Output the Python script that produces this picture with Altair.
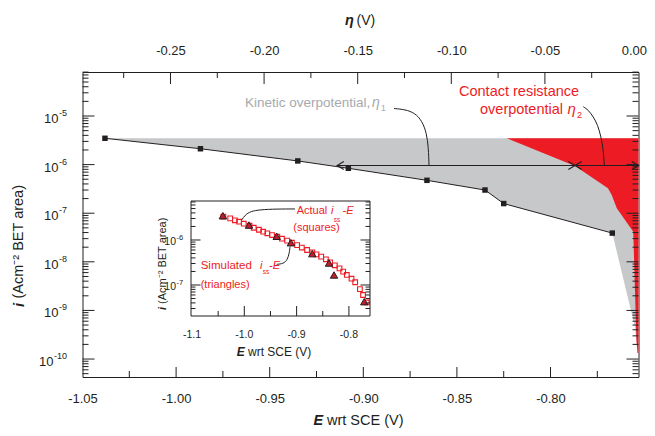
import altair as alt
import pandas as pd

FONT = "Liberation Sans"
INK = "#231f20"
RED = "#ed1c24"
GRAY_FILL = "#c7c8ca"
GRAY_TEXT = "#a7a9ac"
TRI_RED = "#be1e2d"

# ---------------- main panel data ----------------
E_main = [-1.038, -0.987, -0.935, -0.908, -0.866, -0.835, -0.825, -0.767]
i_main = [3.48e-6, 2.12e-6, 1.19e-6, 8.4e-7, 4.75e-7, 3.0e-7, 1.58e-7, 3.9e-8]

# grey (kinetic) region: lower boundary continues past last point
gray_tail_E = [-0.7549, -0.7535, -0.7530]
gray_tail_i = [4.55e-10, 1.33e-10, 1.33e-10]
band_top_i = 3.48e-6

# red (contact resistance) region lower boundary
red_E = [-0.8234, -0.7869, -0.7693, -0.7673, -0.7646, -0.7558, -0.7541, -0.7535, -0.7530]
red_i = [3.48e-6, 9.35e-7, 3.25e-7, 2.37e-7, 1.26e-7, 4.16e-8, 2.46e-10, 1.33e-10, 1.33e-10]

# double arrows
arrow_i = 9.58e-7
arrow_E_start = -0.914
arrow_E_mid = -0.7869
arrow_E_end = -0.7530

# annotation connector paths
kin_curve_E = [-0.8836, -0.8777, -0.8724, -0.8686, -0.8662, -0.8652, -0.8649]
kin_curve_i = [1.426e-5, 1.360e-5, 1.152e-5, 7.89e-6, 4.47e-6, 2.196e-6, 9.58e-7]
con_curve_E = [-0.78248, -0.77981, -0.77714, -0.77479, -0.77302, -0.77179, -0.77126]
con_curve_i = [1.554e-5, 1.329e-5, 9.67e-6, 6.53e-6, 3.75e-6, 2.00e-6, 9.58e-7]

# ---------------- inset data ----------------
inset_sq_E = [-1.040, -1.027, -1.018, -1.010, -1.001, -0.990, -0.982, -0.972, -0.964, -0.956,
              -0.947, -0.937, -0.928, -0.918, -0.909, -0.899, -0.890, -0.880, -0.870, -0.862,
              -0.853, -0.844, -0.836, -0.827, -0.818, -0.811, -0.804, -0.795, -0.788, -0.779,
              -0.773, -0.766]
inset_sq_i = [3.30e-6, 3.03e-6, 2.74e-6, 2.55e-6, 2.30e-6, 2.08e-6, 1.87e-6, 1.69e-6, 1.53e-6, 1.41e-6,
              1.29e-6, 1.18e-6, 1.07e-6, 9.7e-7, 8.7e-7, 7.7e-7, 6.8e-7, 6.0e-7, 5.3e-7, 4.8e-7,
              4.27e-7, 3.72e-7, 3.19e-7, 2.74e-7, 2.34e-7, 1.98e-7, 1.67e-7, 1.38e-7, 1.15e-7, 8.1e-8,
              6.0e-8, 4.1e-8]
inset_tri_E = [-1.041, -0.991, -0.938, -0.911, -0.870, -0.838, -0.8285, -0.7706]
inset_tri_i = [3.47e-6, 2.15e-6, 1.21e-6, 8.7e-7, 4.97e-7, 3.08e-7, 1.67e-7, 4.26e-8]
act_curve_E = [-1.0050, -0.9987, -0.9878, -0.9700, -0.9381, -0.9031]
act_curve_i = [2.78e-6, 3.59e-6, 4.34e-6, 4.71e-6, 4.89e-6, 4.89e-6]
sim_curve_E = [-0.9381, -0.9254, -0.9178, -0.9140, -0.9126]
sim_curve_i = [2.88e-7, 2.97e-7, 3.59e-7, 5.06e-7, 7.10e-7]

# ---------------- axes ----------------
x_ticks = [-1.05, -1.00, -0.95, -0.90, -0.85, -0.80]
x_minor = [-1.025, -0.975, -0.925, -0.875, -0.825, -0.775]
eta_ticks = [-0.25, -0.20, -0.15, -0.10, -0.05, 0.00]
eta_minor = [-0.275, -0.225, -0.175, -0.125, -0.075, -0.025]
y_ticks = [1e-5, 1e-6, 1e-7, 1e-8, 1e-9, 1e-10]
y_exps = ["-5", "-6", "-7", "-8", "-9", "-10"]
y_lo, y_hi = 4.27e-11, 8.04e-5
y_minor = [k * 10.0 ** d for d in range(-11, -4) for k in range(2, 10) if y_lo < k * 10.0 ** d < y_hi]

ix_ticks = [-1.1, -1.0, -0.9, -0.8]
ix_labels = ["-1.1", "-1.0", "-0.9", "-0.8"]
ix_major = [-1.0, -0.9, -0.8]
ix_minor = [-1.05, -0.95, -0.85]
iy_ticks = [1e-6, 1e-7]
iy_exps = ["-6", "-7"]
iy_lo, iy_hi = 2.047e-8, 7.356e-6
iy_minor = [k * 10.0 ** d for d in range(-9, -4) for k in range(2, 10) if iy_lo < k * 10.0 ** d < iy_hi]

# texts
t_kin = "Kinetic overpotential,"
t_con1 = "Contact resistance"
t_con2 = "overpotential"
t_eta = "η"
t_xtitle = "wrt SCE (V)"
t_ytitle = "(Acm⁻² BET area)"

W, H = 556, 305

xs = alt.Scale(domain=[-1.05, -0.753], nice=False, zero=False)
ys = alt.Scale(type="log", domain=[y_lo, y_hi], nice=False)
eta_s = alt.Scale(domain=[-0.297, 0.0], nice=False, zero=False)
ixs = alt.Scale(domain=[-1.1019, -0.7597], range=[108.5, 287.5], nice=False, zero=False)
iys = alt.Scale(type="log", domain=[iy_lo, iy_hi], range=[244, 129], nice=False)

x_axis = alt.Axis(values=x_ticks, labelExpr="replace(format(datum.value,'.2f'),'\u2212','-')",
                  ticks=False, domain=False, grid=False, labelFontSize=13, labelFont=FONT,
                  labelColor=INK, labelPadding=15, labelFlush=False, orient="bottom")
top_axis = alt.Axis(values=eta_ticks, labelExpr="replace(format(datum.value,'.2f'),'\u2212','-')",
                    ticks=False, domain=False, grid=False, labelFontSize=13, labelFont=FONT,
                    labelColor=INK, labelPadding=15, labelFlush=True, labelFlushOffset=8,
                    orient="top")

X = alt.X("E:Q", scale=xs, axis=x_axis, title=None)
Y = alt.Y("i:Q", scale=ys, axis=None)
IX = alt.X("Ei:Q", scale=ixs, axis=None)
IY = alt.Y("ii:Q", scale=iys, axis=None)

one = pd.DataFrame({"a": [0]})


def txt(s, x, y, size, color=INK, style="normal", weight="normal", angle=0, align="left",
        baseline="alphabetic"):
    return alt.Chart(one).mark_text(text=s, font=FONT, fontSize=size, color=color, fontStyle=style,
                                    fontWeight=weight, angle=angle, align=align,
                                    baseline=baseline).encode(x=alt.value(x), y=alt.value(y))


def pow_labels(vals, exps, ycode, field, x_short, x_long, base_size, exp_size, dy_base, dy_exp):
    df = pd.DataFrame({field: vals, "exp": exps, "base": ["10"] * len(vals)})
    layers = []
    for cond, xe in (("length(datum.exp) < 3", x_short), ("length(datum.exp) >= 3", x_long)):
        base = alt.Chart(df).transform_filter(cond).mark_text(
            font=FONT, fontSize=base_size, color=INK, align="right", baseline="middle", dy=dy_base).encode(
            y=ycode, x=alt.value(xe), text="base:N")
        ex = alt.Chart(df).transform_filter(cond).mark_text(
            font=FONT, fontSize=exp_size, color=INK, align="left", baseline="middle", dy=dy_exp, dx=0.5).encode(
            y=ycode, x=alt.value(xe), text="exp:N")
        layers += [base, ex]
    return layers


# ---------------- main layers ----------------
gray_df = pd.DataFrame({"E": E_main + gray_tail_E, "i": [band_top_i] * (len(E_main) + len(gray_tail_E)),
                        "b": i_main + gray_tail_i})
gray = alt.Chart(gray_df).mark_area(color=GRAY_FILL, opacity=1).encode(x=X, y=Y, y2="b:Q")
red_df = pd.DataFrame({"E": red_E, "i": [band_top_i] * len(red_E), "b": red_i})
red = alt.Chart(red_df).mark_area(color=RED, opacity=1).encode(x=X, y=Y, y2="b:Q")

main_df = pd.DataFrame({"E": E_main, "i": i_main})
line = alt.Chart(main_df).mark_line(color=INK, strokeWidth=1).encode(x=X, y=Y)
squares = alt.Chart(main_df).mark_square(color=INK, size=30, opacity=1).encode(x=X, y=Y)

tb_major = alt.Chart(pd.DataFrame({"E": x_ticks[1:]})).mark_rule(color=INK).encode(
    x=X, y=alt.value(H), y2=alt.value(H - 10))
tb_minor = alt.Chart(pd.DataFrame({"E": x_minor})).mark_rule(color=INK).encode(
    x=X, y=alt.value(H), y2=alt.value(H - 6))
tl_major = alt.Chart(pd.DataFrame({"i": y_ticks})).mark_rule(color=INK).encode(
    y=Y, x=alt.value(0), x2=alt.value(12))
tl_minor = alt.Chart(pd.DataFrame({"i": y_minor})).mark_rule(color=INK).encode(
    y=Y, x=alt.value(0), x2=alt.value(6))
tr_major = alt.Chart(pd.DataFrame({"i": y_ticks})).mark_rule(color=INK).encode(
    y=Y, x=alt.value(W - 12), x2=alt.value(W))
tr_minor = alt.Chart(pd.DataFrame({"i": y_minor})).mark_rule(color=INK).encode(
    y=Y, x=alt.value(W - 6), x2=alt.value(W))
ylabs = pow_labels(y_ticks, y_exps, Y, "i", -24, -29, 13, 9, 3, -3)

arrow_line = alt.Chart(pd.DataFrame({"E": [arrow_E_start], "E2": [arrow_E_end], "i": [arrow_i]})).mark_rule(
    color=INK, strokeWidth=1.1).encode(x=X, x2="E2:Q", y=Y)
RIGHT_HEAD = "M-1,-0.6L0,0L-1,0.6"
LEFT_HEAD = "M1,-0.6L0,0L1,0.6"
heads_r = alt.Chart(pd.DataFrame({"E": [arrow_E_mid, arrow_E_end], "i": [arrow_i, arrow_i]})).mark_point(
    shape=RIGHT_HEAD, size=180, filled=False, color=INK, strokeWidth=1.1, opacity=1).encode(x=X, y=Y)
heads_l = alt.Chart(pd.DataFrame({"E": [arrow_E_start, arrow_E_mid], "i": [arrow_i, arrow_i]})).mark_point(
    shape=LEFT_HEAD, size=180, filled=False, color=INK, strokeWidth=1.1, opacity=1).encode(x=X, y=Y)

kin_curve = alt.Chart(pd.DataFrame({"E": kin_curve_E, "i": kin_curve_i})).mark_line(
    color=INK, strokeWidth=1, interpolate="basis").encode(x=X, y=Y)
con_curve = alt.Chart(pd.DataFrame({"E": con_curve_E, "i": con_curve_i})).mark_line(
    color=INK, strokeWidth=1, interpolate="basis").encode(x=X, y=Y)

texts_main = [
    txt(t_kin, 162.5, 34.5, 13.5, GRAY_TEXT),
    txt(t_eta, 289.5, 34.5, 14, GRAY_TEXT, style="italic"),
    txt("1", 298.5, 38.5, 8.5, GRAY_TEXT),
    txt(t_con1, 376.5, 24, 14.5, RED),
    txt(t_con2, 397.5, 41.5, 14.5, RED),
    txt(t_eta, 485, 41.5, 15, RED, style="italic"),
    txt("2", 494.5, 46, 9, RED),
    # x title
    txt("E", 231, 349, 14.5, INK, style="italic", weight="bold", baseline="middle"),
    txt(t_xtitle, 244.5, 349, 14.5, INK, baseline="middle"),
    # top title
    txt(t_eta, 262.5, -51, 14.5, INK, style="italic", weight="bold", baseline="middle"),
    txt("(V)", 274, -51, 14, INK, baseline="middle"),
    # y title
    txt("i", -63.5, 235, 15, INK, style="italic", weight="bold", angle=270, baseline="middle"),
    txt(t_ytitle, -63.5, 226.5, 14.5, INK, angle=270, baseline="middle"),
]

main = alt.layer(gray, red, line, squares, tb_major, tb_minor, tl_major, tl_minor, tr_major, tr_minor,
                 *ylabs, arrow_line, heads_r, heads_l, kin_curve, con_curve, *texts_main)

# ---------------- top (eta) axis ----------------
ETA = alt.X("eta:Q", scale=eta_s, axis=top_axis, title=None)
top = alt.layer(
    alt.Chart(pd.DataFrame({"eta": eta_ticks[:-1]})).mark_rule(color=INK).encode(
        x=ETA, y=alt.value(0), y2=alt.value(12)),
    alt.Chart(pd.DataFrame({"eta": eta_minor})).mark_rule(color=INK).encode(
        x=ETA, y=alt.value(0), y2=alt.value(6)),
)

# ---------------- inset ----------------
inset_frame = alt.Chart(one).mark_rect(fillOpacity=0, stroke=INK, strokeWidth=1).encode(
    x=alt.value(108.5), x2=alt.value(287.5), y=alt.value(129), y2=alt.value(244))
isq = alt.Chart(pd.DataFrame({"Ei": inset_sq_E, "ii": inset_sq_i})).mark_square(
    filled=False, color=RED, size=22, strokeWidth=1.1, opacity=1).encode(x=IX, y=IY)
itri = alt.Chart(pd.DataFrame({"Ei": inset_tri_E, "ii": inset_tri_i})).mark_point(
    shape="triangle-up", filled=True, fill=TRI_RED, stroke=INK, strokeWidth=1, size=55, opacity=1).encode(
    x=IX, y=IY)
ib_major = alt.Chart(pd.DataFrame({"Ei": ix_major})).mark_rule(color=INK).encode(
    x=IX, y=alt.value(244), y2=alt.value(234))
ib_minor = alt.Chart(pd.DataFrame({"Ei": ix_minor})).mark_rule(color=INK).encode(
    x=IX, y=alt.value(244), y2=alt.value(239))
il_major = alt.Chart(pd.DataFrame({"ii": iy_ticks})).mark_rule(color=INK).encode(
    y=IY, x=alt.value(108.5), x2=alt.value(118))
il_minor = alt.Chart(pd.DataFrame({"ii": iy_minor})).mark_rule(color=INK).encode(
    y=IY, x=alt.value(108.5), x2=alt.value(113))
ir_major = alt.Chart(pd.DataFrame({"ii": iy_ticks})).mark_rule(color=INK).encode(
    y=IY, x=alt.value(278), x2=alt.value(287.5))
ir_minor = alt.Chart(pd.DataFrame({"ii": iy_minor})).mark_rule(color=INK).encode(
    y=IY, x=alt.value(283), x2=alt.value(287.5))
ixlab = alt.Chart(pd.DataFrame({"Ei": ix_ticks, "lab": ix_labels})).mark_text(
    font=FONT, fontSize=10.5, color=INK, baseline="middle", align="center").encode(
    x=IX, y=alt.value(263), text="lab:N")
iylabs = pow_labels(iy_ticks, iy_exps, IY, "ii", 93.5, 90, 10.5, 7.5, 2, -2)
act_curve = alt.Chart(pd.DataFrame({"Ei": act_curve_E, "ii": act_curve_i})).mark_line(
    color=INK, strokeWidth=1, interpolate="basis").encode(x=IX, y=IY)
sim_curve = alt.Chart(pd.DataFrame({"Ei": sim_curve_E, "ii": sim_curve_i})).mark_line(
    color=INK, strokeWidth=1, interpolate="basis").encode(x=IX, y=IY)

texts_inset = [
    txt("Actual", 214.2, 142.3, 11, RED),
    txt("i", 248.5, 142.3, 11, RED, style="italic"),
    txt("ss", 251.3, 149.5, 6.5, RED),
    txt("-E", 260, 142.3, 11, RED, style="italic"),
    txt("(squares)", 210.8, 159, 11, RED),
    txt("Simulated", 118.2, 197, 11.5, RED),
    txt("i", 177.5, 197, 11, RED, style="italic"),
    txt("ss", 180.3, 201.5, 6.5, RED),
    txt("-E", 186.5, 197, 11, RED, style="italic"),
    txt("(triangles)", 118.2, 216, 11, RED),
    txt("E", 154.2, 279.5, 12, INK, style="italic", weight="bold", baseline="middle"),
    txt(t_xtitle, 165.5, 279.5, 12, INK, baseline="middle"),
    txt("i", 80.5, 238, 11, INK, style="italic", weight="bold", angle=270, baseline="middle"),
    txt(t_ytitle, 80.5, 232, 11, INK, angle=270, baseline="middle"),
]

inset = alt.layer(isq, itri, inset_frame, ib_major, ib_minor, il_major, il_minor, ir_major, ir_minor,
                  ixlab, *iylabs, act_curve, sim_curve, *texts_inset)

chart = (
    alt.layer(main, top, inset)
    .resolve_scale(x="independent", y="independent")
    .properties(width=W, height=H, padding={"left": 74.5, "top": 64, "right": 8.5, "bottom": 51},
                autosize=alt.AutoSizeParams(type="none"))
    .configure_view(stroke=INK, strokeWidth=1)
)

chart.save("out.html", embed_options={"renderer": "svg", "actions": False})
